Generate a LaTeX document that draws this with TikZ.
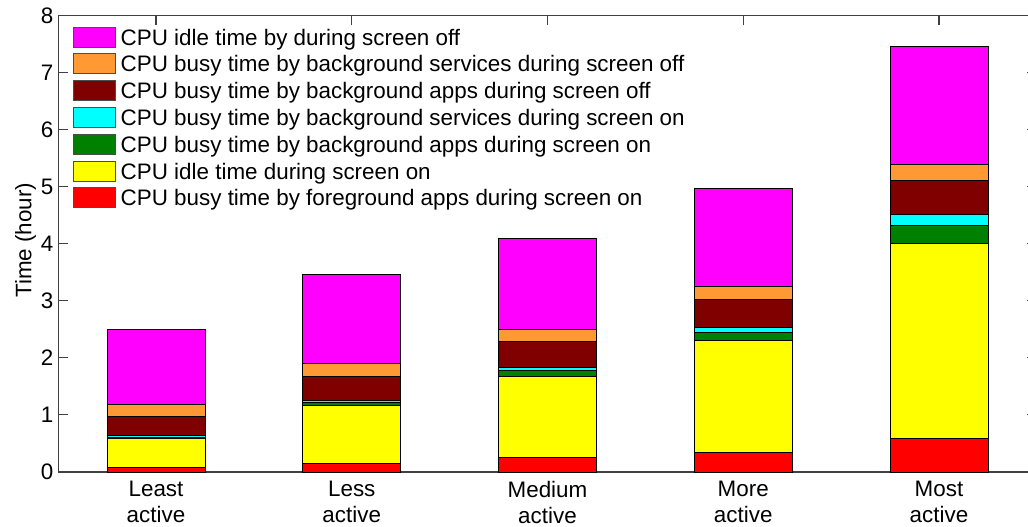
\documentclass[tikz,border=0pt]{standalone}
\usepackage{fontspec}
\setmainfont{Liberation Sans}
\usetikzlibrary{positioning}

\definecolor{idleoff}{rgb}{1,0,1}
\definecolor{bgsrvoff}{RGB}{255,153,51}
\definecolor{bgappoff}{RGB}{128,0,0}
\definecolor{bgsrvon}{rgb}{0,1,1}
\definecolor{bgappon}{RGB}{0,128,0}
\definecolor{idleon}{rgb}{1,1,0}
\definecolor{fgapp}{rgb}{1,0,0}
\definecolor{axgray}{gray}{0.25}

\newcommand{\stackbar}[8]{%
  \draw[seg,fill=fgapp]    (#1-0.25,0)  rectangle (#1+0.25,#2);
  \draw[seg,fill=idleon]   (#1-0.25,#2) rectangle (#1+0.25,#3);
  \draw[seg,fill=bgappon]  (#1-0.25,#3) rectangle (#1+0.25,#4);
  \draw[seg,fill=bgsrvon]  (#1-0.25,#4) rectangle (#1+0.25,#5);
  \draw[seg,fill=bgappoff] (#1-0.25,#5) rectangle (#1+0.25,#6);
  \draw[seg,fill=bgsrvoff] (#1-0.25,#6) rectangle (#1+0.25,#7);
  \draw[seg,fill=idleoff]  (#1-0.25,#7) rectangle (#1+0.25,#8);
}

\begin{document}
\begin{tikzpicture}[x=195.75pt,y=57.1pt,
        txt/.style={
            font=\fontsize{22.4}{26}\selectfont,
            inner sep=0pt
        },
        seg/.style={
            draw=black,
            line width=0.8pt
        },
        axis/.style={
            draw=axgray,
            line width=1.1pt
        },
        ticklab/.style={
            txt,
            text height=16pt,
            text depth=0pt,
            anchor=east
        },
        swatch/.style={
            draw=black!70,
            line width=0.8pt,
            minimum width=42pt,
            minimum height=20pt,
            inner sep=0pt
        },
        legtext/.style={
            txt,
            text height=16pt,
            text depth=0pt,
            label distance=5pt
        },
        node distance=6pt
        ]
        \useasboundingbox (0.2031,-0.9632) rectangle (5.4547,8.2662);

        \draw[axis] (0.5,0) rectangle (5.5,8);
        \foreach \v in {0,...,8} {
            \draw[axis] (0.5,\v) -- ++(10pt,0);
            \draw[axis] (5.5,\v) -- ++(-10pt,0);
            \node[ticklab] (t\v) at ([xshift=-4.5pt]0.5,\v) {\v};
        }
        \foreach \c in {1,...,5}
            \draw[axis] (\c,8) -- ++(0,-10pt);

        \stackbar{1}{0.08}{0.59}{0.61}{0.645}{0.97}{1.18}{2.50}
        \stackbar{2}{0.15}{1.16}{1.22}{1.26}{1.68}{1.90}{3.46}
        \stackbar{3}{0.25}{1.68}{1.78}{1.84}{2.28}{2.50}{4.09}
        \stackbar{4}{0.345}{2.31}{2.45}{2.54}{3.02}{3.25}{4.97}
        \stackbar{5}{0.58}{4.00}{4.32}{4.52}{5.11}{5.39}{7.45}

        \node[txt,align=center,anchor=north] (c1) at ([yshift=-8.7pt]1,0) {Least\\active};
        \node[txt,align=center,anchor=north] (c2) at ([yshift=-8.7pt]2,0) {Less\\active};
        \node[txt,align=center,anchor=north] (c3) at ([yshift=-8.7pt]3,0) {Medium\\active};
        \node[txt,align=center,anchor=north] (c4) at ([yshift=-8.7pt]4,0) {More\\active};
        \node[txt,align=center,anchor=north] (c5) at ([yshift=-8.7pt]5,0) {Most\\active};

        \node[txt,rotate=90,anchor=base] (ylab) at (0.364,4.06) {Time (hour)};

        \node[swatch,fill=idleoff,label={[legtext]right:CPU idle time by during screen off}] 
            (k1) at (0.684,7.618) {};
        \node[swatch,fill=bgsrvoff,below=of k1,label={[legtext]right:CPU busy time by background services during screen off}] 
            (k2) {};
        \node[swatch,fill=bgappoff,below=of k2,label={[legtext]right:CPU busy time by background apps during screen off}] 
            (k3) {};
        \node[swatch,fill=bgsrvon,below=of k3,label={[legtext]right:CPU busy time by background services during screen on}] 
            (k4) {};
        \node[swatch,fill=bgappon,below=of k4,label={[legtext]right:CPU busy time by background apps during screen on}] 
            (k5) {};
        \node[swatch,fill=idleon,below=of k5,label={[legtext]right:CPU idle time during screen on}] 
            (k6) {};
        \node[swatch,fill=fgapp,below=of k6,label={[legtext]right:CPU busy time by foreground apps during screen on}] 
            (k7) {};
\end{tikzpicture}
\end{document}
